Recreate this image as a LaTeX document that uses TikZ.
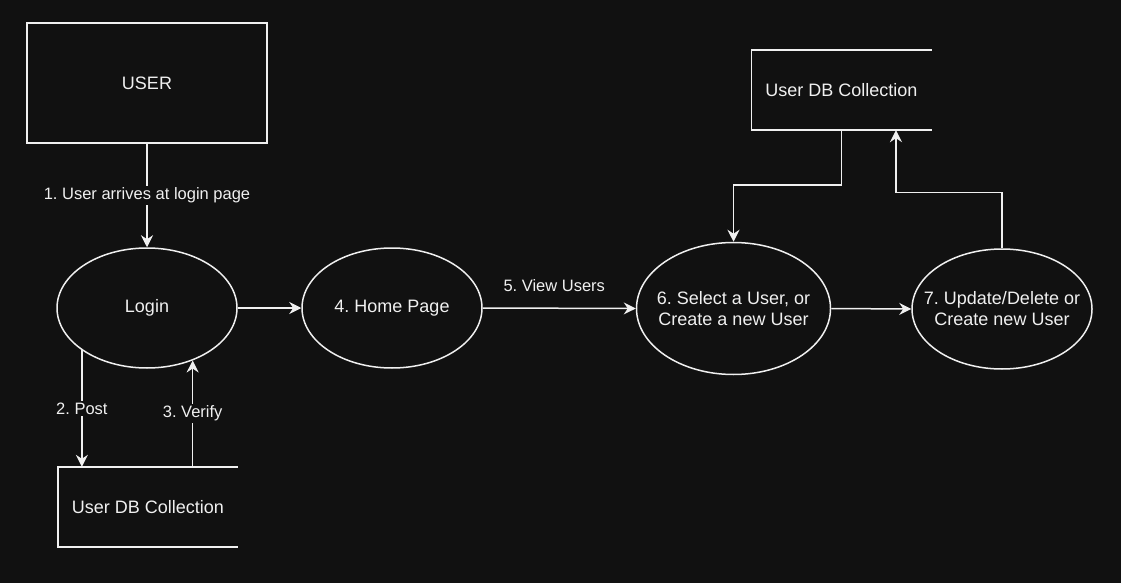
\documentclass[tikz,border=0pt]{standalone}
\usepackage{fontspec}
\setmainfont{Liberation Sans}
\usetikzlibrary{shapes.geometric,arrows.meta,calc}
\definecolor{bgc}{HTML}{111111}
\definecolor{fgc}{HTML}{F0F0F0}
\frenchspacing
\begin{document}
\begin{tikzpicture}[x=1pt,y=-1pt,
  every node/.style={text=fgc},
  ntext/.style={font=\fontsize{18}{21}\selectfont, align=center, text=fgc},
  boxnode/.style={ntext, draw=fgc, line width=1.5pt, fill=bgc, rectangle, minimum width=240pt, minimum height=120pt, inner sep=0pt},
  ellnode/.style={draw=fgc, line width=1.5pt, fill=bgc, ellipse, inner sep=0pt},
  dsnode/.style={ntext, rectangle, minimum width=180pt, minimum height=80pt, inner sep=0pt},
  dsline/.style={draw=fgc, line width=1.5pt},
  conn/.style={draw=fgc, line width=1.5pt, -{Stealth[length=12pt,width=12pt,inset=4pt]}},
  elabel/.style={font=\fontsize{16.5}{19}\selectfont, fill=bgc, inner sep=1.5pt, text=fgc}
]
\useasboundingbox[fill=bgc] (0,0) rectangle (1121,583);

\node[boxnode] (user) at (147,83) {USER};
\node[ellnode, minimum width=180pt, minimum height=120pt, label={[ntext]center:Login}] (login) at (147,308) {};
\node[ellnode, minimum width=180pt, minimum height=120pt, label={[ntext]center:4. Home Page}] (home) at (392,308) {};
\node[ellnode, minimum width=194pt, minimum height=132pt, label={[ntext]center:{6. Select a User, or\\Create a new User}}] (sel) at (733.5,308.5) {};
\node[ellnode, minimum width=180pt, minimum height=120pt, label={[ntext]center:{7. Update/Delete or\\Create new User}}] (upd) at (1002,309) {};

\node[dsnode] (db1) at (148,507) {User DB Collection};
\draw[dsline] (db1.north east) -- (db1.north west) -- (db1.south west) -- (db1.south east);
\node[dsnode] (db2) at (841.5,90) {User DB Collection};
\draw[dsline] (db2.north east) -- (db2.north west) -- (db2.south west) -- (db2.south east);

\draw[conn] (user.south) -- node[elabel] {1. User arrives at login page} (login.north);
\draw[conn] (login.east) -- (home.west);
\draw[conn] (home.east) -- node[elabel, yshift=23pt, xshift=-5pt, fill=none] {5. View Users} (sel.west);
\draw[conn] (sel.east) -- (upd.west);
\draw[conn] (login.213.4) -- node[elabel] {2. Post} (login.213.4 |- db1.north);
\draw[conn] (login.311.7 |- db1.north) -- node[elabel] {3. Verify} (login.311.7);
\draw[conn] (db2.south) -- ++(0,55) -| (sel.north);
\draw[conn] (upd.north) -- ++(0,-56) -| ([xshift=54.5pt]db2.south);
\end{tikzpicture}
\end{document}
